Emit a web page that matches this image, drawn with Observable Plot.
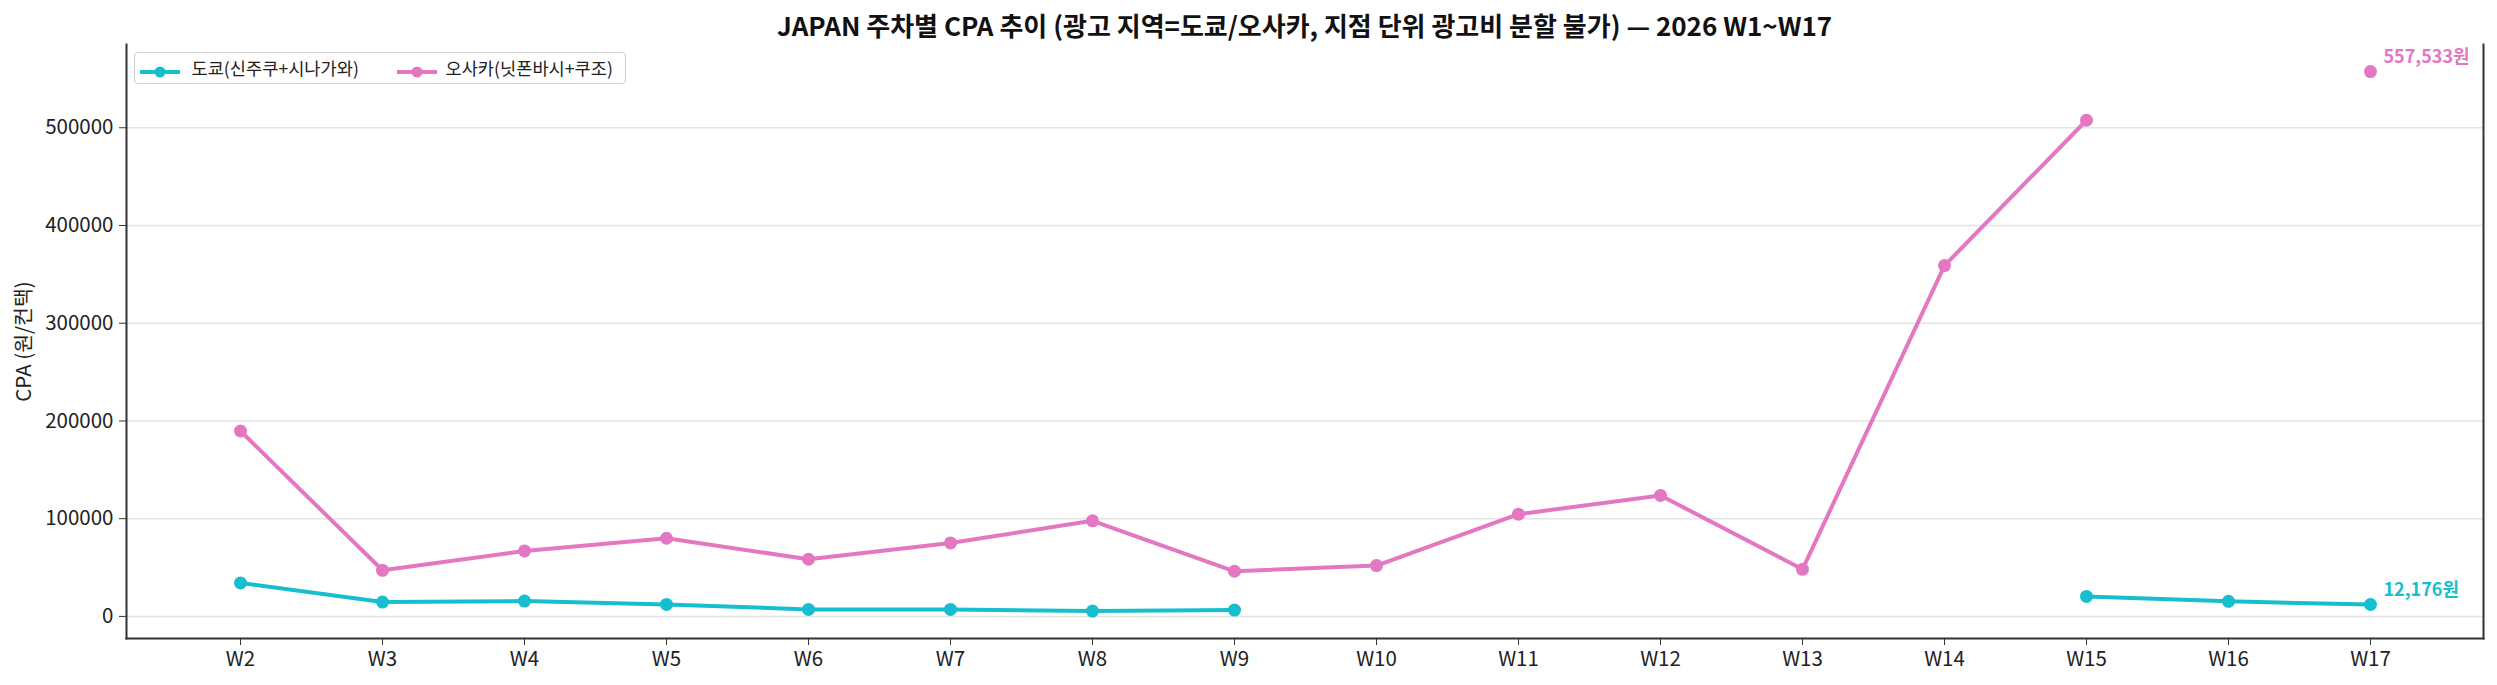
<!DOCTYPE html>
<html>
<head>
<meta charset="utf-8">
<script src="https://cdn.jsdelivr.net/npm/d3@7"></script>
<script src="https://cdn.jsdelivr.net/npm/@observablehq/plot@0.6"></script>
<style>
  body { margin: 0; background: white; font-family: "Noto Sans CJK KR", "Noto Sans", sans-serif; }
  #wrap { position: relative; width: 2497px; height: 685px; }
  #title { height: 44px; line-height: 44px; padding-left: 126px; padding-right: 14px; text-align: center;
           font-weight: bold; font-size: 26px; color: #111; position: relative; top: 3px; box-sizing: border-box; white-space: nowrap; }
  #legend { position: absolute; left: 134px; top: 52px; height: 32px; width: 492px; box-sizing: border-box;
            border: 1.5px solid #d0d0d0; border-radius: 4px; background: rgba(255,255,255,0.85);
            font-size: 17.6px; color: #222; z-index: 2; }
  .sw { position: absolute; top: 7px; }
  .lt { position: absolute; top: 0; line-height: 29px; white-space: nowrap; }
</style>
</head>
<body>
<div id="wrap">
  <div id="title"></div>
  <div id="legend"></div>
  <div id="chart"></div>
</div>
<script>
const titleText = "JAPAN 주차별 CPA 추이 (광고 지역=도쿄/오사카, 지점 단위 광고비 분할 불가) — 2026 W1~W17";
const weeks = ["W2","W3","W4","W5","W6","W7","W8","W9","W10","W11","W12","W13","W14","W15","W16","W17"];
const seriesNames = ["도쿄(신주쿠+시나가와)", "오사카(닛폰바시+쿠조)"];
const seriesColors = ["#17becf", "#e377c2"];
const tokyo = [34200, 14700, 15700, 12300, 7200, 7200, 5500, 6500, null, null, null, null, null, 20500, 15400, 12176];
const osaka = [189700, 47200, 67000, 80000, 58500, 75200, 97800, 46200, 52000, 104600, 123800, 48200, 359000, 507700, null, 557533];
const yTicks = [0, 100000, 200000, 300000, 400000, 500000];
const yLabel = "CPA (원/컨택)";

document.getElementById("title").textContent = titleText;

const rows = [];
[tokyo, osaka].forEach((vals, si) => {
  vals.forEach((v, i) => rows.push({week: weeks[i], series: seriesNames[si], value: v == null ? NaN : v}));
});
const valid = rows.filter(d => !isNaN(d.value));
const lastRows = seriesNames.map(s => valid.filter(d => d.series === s).slice(-1)[0]);

// legend (positions relative to the legend box)
const legend = document.getElementById("legend");
const swatchLeft = [3.5, 260.5];
const textLeft = [56.5, 310.5];
seriesNames.forEach((name, i) => {
  const sw = document.createElement("div");
  sw.className = "sw";
  sw.style.left = swatchLeft[i] + "px";
  sw.innerHTML = `<svg width="42" height="16"><line x1="1" y1="8" x2="41" y2="8" stroke="${seriesColors[i]}" stroke-width="4"/><circle cx="21" cy="8" r="5.5" fill="${seriesColors[i]}"/></svg>`;
  legend.appendChild(sw);
  const t = document.createElement("div");
  t.className = "lt";
  t.style.left = textLeft[i] + "px";
  t.textContent = name;
  legend.appendChild(t);
});

const chart = Plot.plot({
  width: 2497,
  height: 641,
  marginTop: 0,
  marginLeft: 126,
  marginRight: 14,
  marginBottom: 47,
  style: {fontFamily: "'Noto Sans CJK KR', 'Noto Sans', sans-serif", fontSize: "20px", color: "#222", background: "white", overflow: "visible"},
  x: {type: "point", domain: weeks, padding: 0.75},
  y: {domain: [-22600, 585200]},
  color: {domain: seriesNames, range: seriesColors},
  marks: [
    Plot.gridY(yTicks, {stroke: "#e4e4e4", strokeOpacity: 1, strokeWidth: 1.5}),
    Plot.axisY(yTicks, {tickSize: 7, tickPadding: 6, tickFormat: d => String(d), label: yLabel, labelAnchor: "center", labelArrow: "none", labelOffset: 110, stroke: "#333", fontSize: 20.5}),
    Plot.axisX({tickSize: 7, tickPadding: 6, label: null, stroke: "#333", fontSize: 20.5}),
    Plot.frame({anchor: "left", stroke: "#333", strokeWidth: 2}),
    Plot.frame({anchor: "bottom", stroke: "#333", strokeWidth: 2}),
    Plot.frame({anchor: "right", stroke: "#333", strokeWidth: 2}),
    Plot.line(rows, {x: "week", y: "value", z: "series", stroke: "series", strokeWidth: 4}),
    Plot.dot(valid, {x: "week", y: "value", fill: "series", r: 6.5}),
    Plot.text(lastRows, {x: "week", y: "value", text: d => d3.format(",")(d.value) + "원", fill: "series",
      dx: 13, dy: -14, textAnchor: "start", fontWeight: "bold", fontSize: 18})
  ]
});
document.getElementById("chart").appendChild(chart);
</script>
</body>
</html>
